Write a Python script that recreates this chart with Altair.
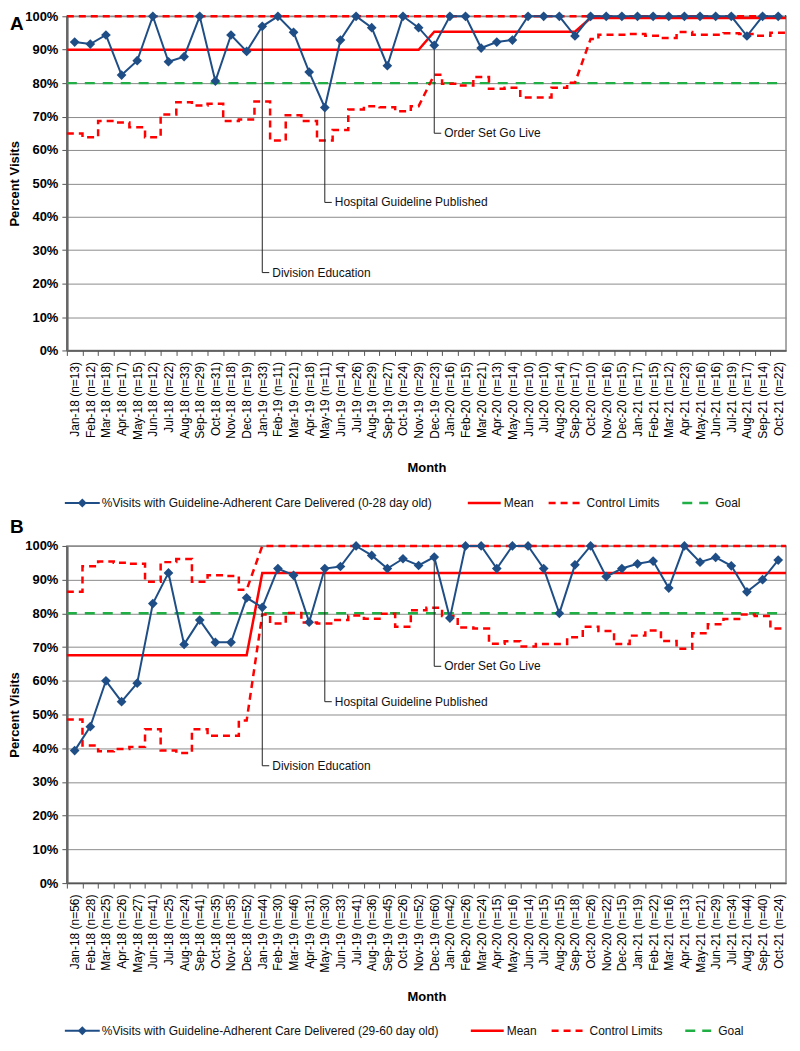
import json
import altair as alt
import pandas as pd

# ---------------- data ----------------
months = ["Jan-18", "Feb-18", "Mar-18", "Apr-18", "May-18", "Jun-18", "Jul-18", "Aug-18", "Sep-18", "Oct-18", "Nov-18", "Dec-18",
          "Jan-19", "Feb-19", "Mar-19", "Apr-19", "May-19", "Jun-19", "Jul-19", "Aug-19", "Sep-19", "Oct-19", "Nov-19", "Dec-19",
          "Jan-20", "Feb-20", "Mar-20", "Apr-20", "May-20", "Jun-20", "Jul-20", "Aug-20", "Sep-20", "Oct-20", "Nov-20", "Dec-20",
          "Jan-21", "Feb-21", "Mar-21", "Apr-21", "May-21", "Jun-21", "Jul-21", "Aug-21", "Sep-21", "Oct-21"]

n_a = [13, 12, 18, 17, 15, 12, 22, 33, 29, 31, 18, 19, 33, 11, 21, 18, 11, 14, 26, 29, 27, 24, 29,
       23, 16, 15, 21, 13, 14, 10, 10, 14, 17, 10, 16, 15, 17, 15, 12, 23, 16, 16, 19, 17, 14, 22]
n_b = [56, 28, 25, 26, 27, 41, 25, 24, 41, 35, 35, 52, 44, 30, 46, 31, 30, 33, 41, 36, 45, 26, 52,
       60, 42, 26, 24, 15, 16, 14, 15, 15, 18, 26, 22, 15, 19, 22, 16, 13, 21, 29, 34, 44, 40, 24]

pct_a = [92.3, 91.7, 94.4, 82.4, 86.7, 100, 86.4, 87.9, 100, 80.6, 94.4, 89.5, 97.0, 100, 95.2, 83.3,
         72.7, 92.9, 100, 96.6, 85.2, 100, 96.6, 91.3, 100, 100, 90.5, 92.3, 92.9, 100, 100, 100,
         94.1, 100, 100, 100, 100, 100, 100, 100, 100, 100, 100, 94.1, 100, 100]
pct_b = [39.3, 46.4, 60.0, 53.8, 59.3, 82.9, 92.0, 70.8, 78.0, 71.4, 71.4, 84.6, 81.8, 93.3, 91.3, 77.4,
         93.3, 93.9, 100, 97.2, 93.3, 96.2, 94.2, 96.7, 78.6, 100, 100, 93.3, 100, 100, 93.3, 80.0,
         94.4, 100, 90.9, 93.3, 94.7, 95.5, 87.5, 100, 95.2, 96.6, 94.1, 86.4, 90.0, 95.8]

# phase starts (month index) and phase means
phases_a = [0, 23, 33]
mean_a = [90.0, 95.4, 99.5]
phases_b = [0, 12]
mean_b = [67.6, 92.0]

ucl_a = [100.0] * 46
lcl_a = [64.9, 63.8, 68.7, 68.2, 66.8, 63.8, 70.6, 74.3, 73.3, 73.8, 68.7, 69.1, 74.5, 62.8, 70.4, 68.7,
         62.8, 66.0, 72.1, 73.1, 72.8, 71.6, 73.1, 82.5, 79.8, 79.3, 81.8, 78.3, 78.6, 75.7, 75.7, 78.6,
         80.1, 93.2, 94.5, 94.5, 94.7, 94.2, 93.5, 95.3, 94.5, 94.5, 94.9, 94.7, 94.2, 95.1]
ucl_b = [86.4, 94.0, 95.4, 95.0, 94.7, 89.4, 95.2, 96.1, 89.4, 91.3, 91.1, 87.0] + [100.0] * 34
lcl_b = [48.5, 40.8, 39.1, 39.8, 40.4, 45.6, 39.3, 38.6, 45.6, 43.7, 43.7, 48.2, 79.7, 77.0, 80.1, 77.3,
         77.0, 78.0, 79.4, 78.4, 79.9, 76.0, 80.9, 81.7, 79.2, 75.8, 75.5, 71.0, 71.7, 70.2, 70.9, 70.9,
         72.9, 76.0, 74.8, 70.9, 73.4, 74.9, 71.8, 69.5, 74.1, 76.8, 78.3, 79.7, 79.2, 75.5]
goal = 80.0

ann_labels = ["Division Education", "Hospital Guideline Published", "Order Set Go Live"]
ann_months = [12, 16, 23]
ann_end_a = [23.3, 44.3, 65.0]
ann_end_b = [34.8, 53.8, 64.3]

series_a = "%Visits with Guideline-Adherent Care Delivered (0-28 day old)"
series_b = "%Visits with Guideline-Adherent Care Delivered (29-60 day old)"

# ---------------- style ----------------
W = 721
BAND = W / len(months)
FONT = "Liberation Sans"
BLUE = "#1F4E86"
RED = "#FF0000"
GREEN = "#1FAF45"
GRID = "#8c8c8c"
ONE = pd.DataFrame({"k": [0]})


def path_df(vals, starts):
    rows, k = [], 0
    for i, v in enumerate(vals):
        x0 = i if (i in starts and i != 0) else i - 0.5
        x1 = i if (i + 1 in starts) else i + 0.5
        rows.append({"x": x0, "y": v, "o": k}); k += 1
        rows.append({"x": x1, "y": v, "o": k}); k += 1
    return pd.DataFrame(rows)


def per_phase(means, starts):
    out = []
    for i in range(len(months)):
        p = max(j for j, s in enumerate(starts) if s <= i)
        out.append(means[p])
    return out


def panel(letter, ns, pct, starts, means, ucl, lcl, ann_end, series_label, H, leg_dx,
          title_pad, leg_off):
    labels = [f"{m} (n={n})" for m, n in zip(months, ns)]
    xscale = alt.Scale(domain=[-0.5, len(months) - 0.5], nice=False, zero=False)
    yscale = alt.Scale(domain=[0, 100], nice=False, zero=True)
    # ticks on the month boundaries, labels shifted to the month centres
    x_axis = alt.Axis(values=[i - 0.5 for i in range(len(months))],
                      labelExpr=f"{json.dumps(labels)}[round(datum.value + 0.5)] || ''",
                      labelAngle=270, labelOffset=BAND / 2, labelFontSize=12, labelPadding=6,
                      labelOverlap=False, labelFlush=False, tickSize=5, tickColor="#555",
                      grid=False, title="Month", titleFontSize=13, titleFontWeight="bold",
                      titlePadding=title_pad, domainWidth=1.5, domainColor="#555")
    y_axis = alt.Axis(values=list(range(0, 101, 10)), labelExpr="datum.value + '%'",
                      labelFontSize=13, labelFontWeight="bold", labelPadding=4, tickSize=5,
                      tickColor="#555", grid=True, gridColor=GRID, gridWidth=1,
                      title="Percent Visits", titleFontSize=13, titleFontWeight="bold",
                      titlePadding=3, domainWidth=2.5, domainColor="#666")

    def X(f):
        return alt.X(f, type="quantitative", scale=xscale, axis=x_axis)

    def Y(f):
        return alt.Y(f, type="quantitative", scale=yscale, axis=y_axis)

    data = pd.DataFrame({"i": list(range(len(months))), "v": pct})
    ann = pd.DataFrame({"lab": ann_labels, "i": ann_months,
                        "v": [pct[m] for m in ann_months], "e": ann_end})

    goal_l = alt.Chart(path_df([goal] * len(months), [0])).mark_line(
        color=GREEN, strokeWidth=2.5, strokeDash=[10, 8]).encode(x=X("x"), y=Y("y"), order="o:Q")
    lcl_l = alt.Chart(path_df(lcl, starts)).mark_line(
        color=RED, strokeWidth=2.5, strokeDash=[7, 5]).encode(x=X("x"), y=Y("y"), order="o:Q")
    ucl_l = alt.Chart(path_df(ucl, starts)).mark_line(
        color=RED, strokeWidth=2.5, strokeDash=[7, 5]).encode(x=X("x"), y=Y("y"), order="o:Q")
    mean_l = alt.Chart(path_df(per_phase(means, starts), starts)).mark_line(
        color=RED, strokeWidth=2.5).encode(x=X("x"), y=Y("y"), order="o:Q")

    ann_v = alt.Chart(ann).mark_rule(color="#222", strokeWidth=1).encode(x=X("i"), y=Y("v"), y2="e")
    ann_h = alt.Chart(ann).mark_rule(color="#222", strokeWidth=1, x2Offset=7).encode(
        x=X("i"), x2="i", y=Y("e"))
    ann_t = alt.Chart(ann).mark_text(align="left", baseline="middle", dx=10, fontSize=12,
                                     font=FONT, color="#111").encode(x=X("i"), y=Y("e"), text="lab")

    line = alt.Chart(data).mark_line(color=BLUE, strokeWidth=2).encode(x=X("i"), y=Y("v"))
    pts = alt.Chart(data).mark_point(shape="diamond", filled=True, size=95, color=BLUE,
                                     opacity=1).encode(x=X("i"), y=Y("v"))

    lab = alt.Chart(ONE).mark_text(align="left", baseline="alphabetic", fontSize=19,
                                   fontWeight="bold", font=FONT, color="#000").encode(
        x=alt.value(-57), y=alt.value(14 if letter == "A" else -13), text=alt.value(letter))

    ly = H + leg_off
    leg = []
    d = 0 + leg_dx
    entries = [
        (-2, 33, BLUE, None, 2, 35, series_label),
        (402 + d, 435 + d, RED, None, 2.5, 438 + d, "Mean"),
        (483 + d, 515 + d, RED, [7, 5], 2.5, 521 + d, "Control Limits"),
        (617 + d, 643 + d, GREEN, [10, 7], 2.5, 650 + d, "Goal"),
    ]
    for x0, x1, col, dash, sw, tx, txt in entries:
        kw = dict(color=col, strokeWidth=sw)
        if dash:
            kw["strokeDash"] = dash
        leg.append(alt.Chart(ONE).mark_rule(**kw).encode(
            x=alt.value(x0), x2=alt.value(x1), y=alt.value(ly)))
        leg.append(alt.Chart(ONE).mark_text(align="left", baseline="middle", fontSize=12,
                                            font=FONT, color="#111").encode(
            x=alt.value(tx), y=alt.value(ly), text=alt.value(txt)))
    leg.append(alt.Chart(ONE).mark_point(shape="diamond", filled=True, size=80, color=BLUE,
                                         opacity=1).encode(x=alt.value(15.5), y=alt.value(ly)))

    return alt.layer(goal_l, lcl_l, ucl_l, mean_l, ann_v, ann_h, ann_t, line, pts, lab,
                     *leg).properties(width=W, height=H)


panel_a = panel("A", n_a, pct_a, phases_a, mean_a, ucl_a, lcl_a, ann_end_a, series_a, 335, 0, 22, 153)
panel_b = panel("B", n_b, pct_b, phases_b, mean_b, ucl_b, lcl_b, ann_end_b, series_b, 338, 3, 18, 148)

chart = alt.vconcat(panel_a, panel_b, spacing=7).properties(
    padding={"left": 0, "top": 0, "right": 0, "bottom": 0}
).configure_view(stroke="#8c8c8c", strokeWidth=1.5).configure_axis(
    labelFont=FONT, titleFont=FONT, labelColor="#000", titleColor="#000")

chart.save("out.html", embed_options={"renderer": "svg", "actions": False})
